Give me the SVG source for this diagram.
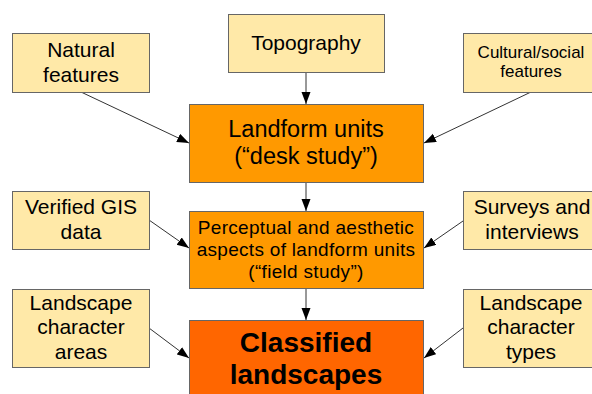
<svg xmlns="http://www.w3.org/2000/svg" width="592" height="394" viewBox="0 0 592 394">
<style>
.in{fill:#ffe9a8;stroke:#666;stroke-width:1}
.mid{fill:#ff9900;stroke:#666;stroke-width:1}
.out{fill:#ff6600;stroke:#666;stroke-width:1}
text{font-family:"Liberation Sans",Arial,sans-serif;fill:#000;text-anchor:middle}
.t21{font-size:21px}
.t17{font-size:17px}
.t24{font-size:23.5px}
.t19{font-size:19px;letter-spacing:0.3px}
.t28{font-size:28px;font-weight:bold}
.c{stroke:#333;stroke-width:1;fill:none;marker-end:url(#ah)}
</style>
<defs>
<marker id="ah" markerUnits="userSpaceOnUse" markerWidth="12" markerHeight="10" refX="12" refY="4.5" orient="auto">
<path d="M0,0 L12,4.5 L0,9 z" fill="#000"/>
</marker>
</defs>
<rect width="592" height="394" fill="#fff"/>
<g id="connectors">
<line class="c" x1="81" y1="92" x2="189" y2="143"/>
<line class="c" x1="306" y1="72" x2="306" y2="104"/>
<line class="c" x1="531" y1="92" x2="424" y2="143"/>
<line class="c" x1="306" y1="183" x2="306" y2="211"/>
<line class="c" x1="149" y1="220" x2="189" y2="248"/>
<line class="c" x1="463" y1="221" x2="424" y2="248"/>
<line class="c" x1="306" y1="289" x2="306" y2="320"/>
<line class="c" x1="149" y1="328" x2="189" y2="358"/>
<line class="c" x1="463" y1="328" x2="424" y2="358"/>
</g>
<g id="natural">
<rect class="in" x="12.5" y="33.5" width="137" height="59"/>
<text class="t21" x="81" y="57">Natural</text>
<text class="t21" x="81" y="81.5">features</text>
</g>
<g id="topography">
<rect class="in" x="228.5" y="14.5" width="156" height="58"/>
<text class="t21" x="306" y="50">Topography</text>
</g>
<g id="cultural">
<rect class="in" x="463.5" y="33.5" width="137" height="59"/>
<text class="t17" x="531" y="58">Cultural/social</text>
<text class="t17" x="531" y="77">features</text>
</g>
<g id="landform">
<rect class="mid" x="189.5" y="104.5" width="234" height="78"/>
<text class="t24" x="306" y="137">Landform units</text>
<text class="t24" x="306" y="163.5">(“desk study”)</text>
</g>
<g id="gis">
<rect class="in" x="12.5" y="191.5" width="137" height="58"/>
<text class="t21" x="81" y="214">Verified GIS</text>
<text class="t21" x="81" y="238.5">data</text>
</g>
<g id="perceptual">
<rect class="mid" x="189.5" y="211.5" width="234" height="77"/>
<text class="t19" x="306" y="233.5">Perceptual and aesthetic</text>
<text class="t19" x="306" y="255.5">aspects of landform units</text>
<text class="t19" x="306" y="277.5">(“field study”)</text>
</g>
<g id="surveys">
<rect class="in" x="463.5" y="191.5" width="137" height="58"/>
<text class="t21" x="532" y="214">Surveys and</text>
<text class="t21" x="532" y="238.5">interviews</text>
</g>
<g id="areas">
<rect class="in" x="12.5" y="289.5" width="137" height="78"/>
<text class="t21" x="81" y="310">Landscape</text>
<text class="t21" x="81" y="334">character</text>
<text class="t21" x="81" y="358.5">areas</text>
</g>
<g id="classified">
<rect class="out" x="189.5" y="320.5" width="234" height="90"/>
<text class="t28" x="306" y="352">Classified</text>
<text class="t28" x="306" y="384">landscapes</text>
</g>
<g id="types">
<rect class="in" x="463.5" y="289.5" width="137" height="78"/>
<text class="t21" x="531" y="310">Landscape</text>
<text class="t21" x="531" y="334">character</text>
<text class="t21" x="531" y="358.5">types</text>
</g>
</svg>
